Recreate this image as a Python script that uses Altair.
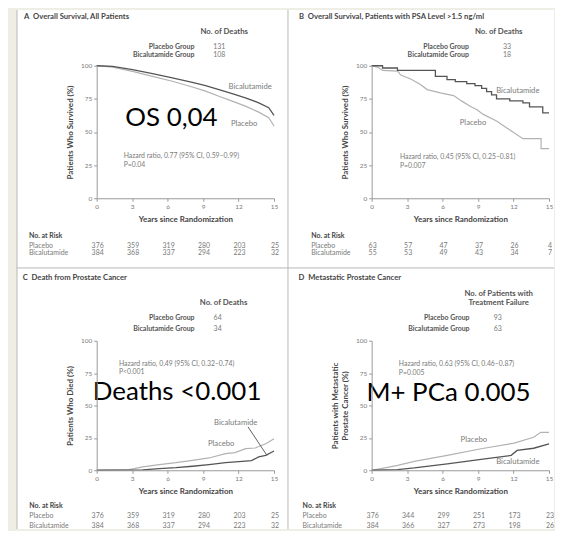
import altair as alt
import pandas as pd

# ---------------- data ----------------
YEAR_TICKS = [0, 3, 6, 9, 12, 15]
PCT_TICKS = [0, 25, 50, 75, 100]
GROUPS = ["Placebo", "Bicalutamide"]

# A  Overall survival, all patients (% surviving)
A_PLAC_YR = [0, 1.35, 3.03, 4.72, 6.40, 8.09, 9.21, 10.34, 11.46, 12.58, 13.71, 14.55, 15.0]
A_PLAC_PCT = [100, 99.0, 95.8, 92.0, 88.3, 84.0, 80.8, 77.0, 73.3, 69.5, 65.0, 60.8, 54.5]
A_BICA_YR = [0, 1.35, 3.03, 4.72, 6.40, 8.09, 9.21, 10.34, 11.46, 12.58, 13.71, 14.55, 15.0]
A_BICA_PCT = [100, 99.5, 97.0, 94.0, 90.8, 87.5, 85.0, 82.0, 79.0, 75.8, 72.0, 68.3, 62.5]
A_RISK_PLAC = [376, 359, 319, 280, 203, 25]
A_RISK_BICA = [384, 368, 337, 294, 223, 32]
A_EVENTS = [131, 108]

# B  Overall survival, PSA > 1.5 ng/ml
B_PLAC_YR = [0, 0.5, 0.92, 2.2, 2.46, 3.3, 4.13, 4.69, 5.81, 6.93, 7.63, 8.32, 8.88, 9.44,
             10.56, 11.4, 12.23, 12.79, 14.33, 14.33, 15.0]
B_PLAC_PCT = [100, 99.0, 96.5, 96.0, 93.0, 90.0, 85.8, 82.0, 79.5, 77.5, 73.3, 69.5, 67.0, 63.3,
              58.3, 53.3, 48.3, 45.0, 45.0, 37.5, 37.5]
B_BICA_YR = [0, 0.92, 2.18, 5.39, 6.37, 7.07, 8.04, 8.74, 9.30, 9.72, 10.14, 10.56, 11.68,
             12.79, 13.35, 14.47, 15.0]
B_BICA_PCT = [100, 98.3, 96.5, 92.0, 89.5, 88.0, 86.5, 85.0, 83.0, 80.5, 78.0, 75.0, 73.5,
              72.0, 69.0, 64.5, 64.5]
B_RISK_PLAC = [63, 57, 47, 37, 26, 4]
B_RISK_BICA = [55, 53, 49, 43, 34, 7]
B_EVENTS = [33, 18]

# C  Death from prostate cancer (% died)
C_PLAC_YR = [0, 2.75, 3.9, 5.3, 6.7, 8.1, 9.5, 10.9, 11.7, 12.6, 13.4, 14.3, 15.0]
C_PLAC_PCT = [0, 0.5, 2.6, 4.4, 5.9, 7.7, 9.5, 12.8, 13.6, 16.7, 17.2, 20.5, 24.4]
C_BICA_YR = [0, 3.9, 5.3, 6.7, 8.1, 9.5, 10.9, 12.3, 13.1, 13.7, 14.3, 15.0]
C_BICA_PCT = [0, 0.3, 1.3, 2.0, 3.1, 4.4, 5.9, 6.9, 7.4, 10.3, 11.5, 14.9]
C_RISK_PLAC = [376, 359, 319, 280, 203, 25]
C_RISK_BICA = [384, 368, 337, 294, 223, 32]
C_EVENTS = [64, 34]

# D  Metastatic prostate cancer (%)
D_PLAC_YR = [0, 0.8, 2.2, 3.6, 6.4, 9.25, 12.05, 13.7, 14.3, 15.0]
D_PLAC_PCT = [0, 1.3, 3.8, 6.9, 11.5, 16.6, 21.0, 25.5, 29.3, 29.3]
D_BICA_YR = [0, 2.2, 3.6, 6.4, 9.25, 11.8, 12.3, 13.7, 15.0]
D_BICA_PCT = [0, 0.5, 1.8, 5.0, 8.4, 11.5, 15.3, 17.0, 20.4]
D_RISK_PLAC = [376, 344, 299, 251, 173, 23]
D_RISK_BICA = [384, 366, 327, 273, 198, 26]
D_EVENTS = [93, 63]

# ---------------- styling ----------------
FONT = "Lato"
COL_PLAC = "#b2b2b2"
COL_BICA = "#555555"
GREY = "#7a7a7a"
DARK = "#454545"
W = 178


def panel(title, ytitle, head, hr, p, big, plac, bica, risk, events, lay, h, bica_interp="linear"):
    xs = alt.Scale(domain=[0, 15], nice=False, zero=False)
    ys = alt.Scale(domain=[0, 100], nice=False, zero=False)
    common = dict(labelFont=FONT, labelFontSize=6.5, labelColor=GREY, titleFont=FONT,
                  titleFontSize=8, titleFontWeight="bold", titleColor=DARK, domainColor="#9a9a9a",
                  tickColor="#9a9a9a", tickSize=3, labelPadding=2, grid=False, zindex=1,
                  labelFlush=False, labelOverlap=False)
    X = alt.X("x:Q", scale=xs, axis=alt.Axis(values=YEAR_TICKS, title="Years since Randomization",
                                             titlePadding=6, **common))
    Y = alt.Y("y:Q", scale=ys, axis=alt.Axis(values=PCT_TICKS, title=ytitle, titlePadding=6, **common))

    bx1, bx2, by1, by2 = lay["bg"]
    bg = alt.Chart(pd.DataFrame([{"x": bx1, "x2": bx2, "y": by1, "y2": by2}])).mark_rect(
        fill="white").encode(x=X, x2="x2:Q", y=Y, y2="y2:Q")
    rl = pd.DataFrame(lay["rules"], columns=["x", "x2", "y", "y2"])
    rules = alt.Chart(rl).mark_rule(color="#b8b8b8", strokeWidth=1).encode(
        x=X, x2="x2:Q", y=Y, y2="y2:Q")

    def line(xv, yv, color, sw, interp):
        df = pd.DataFrame({"x": xv, "y": yv, "i": range(len(xv))})
        return alt.Chart(df).mark_line(color=color, strokeWidth=sw, interpolate=interp).encode(
            x=X, y=Y, order="i:Q")

    lp = line(plac[0], plac[1], COL_PLAC, 1.2, "linear")
    lb = line(bica[0], bica[1], COL_BICA, 1.3, bica_interp)

    def txt(rows, **props):
        df = pd.DataFrame(rows, columns=["x", "y", "t"])
        base = dict(font=FONT, baseline="middle", fontSize=7)
        base.update(props)
        return alt.Chart(df).mark_text(**base).encode(x=X, y=Y, text="t:N")

    layers = [bg, rules, lp, lb]
    layers.append(txt([(lay["title"][0], lay["title"][1], title)], align="left",
                      fontWeight="bold", color=DARK, fontSize=7.7))
    layers.append(txt([(hx, hy, t) for t, (hx, hy) in zip(head, lay["head"])], align="center",
                      fontWeight="bold", color="#555555", fontSize=7.8))
    gy = lay["grp_y"]
    layers.append(txt([(lay["grp_x"], gy[0], "Placebo Group"),
                       (lay["grp_x"], gy[1], "Bicalutamide Group")], align="right",
                      fontWeight="bold", color="#555555"))
    layers.append(txt([(lay["cnt_x"], gy[0], str(events[0])),
                       (lay["cnt_x"], gy[1], str(events[1]))], align="left", color=GREY))
    layers.append(txt([(lay["lab_plac"][0], lay["lab_plac"][1], GROUPS[0]),
                       (lay["lab_bica"][0], lay["lab_bica"][1], GROUPS[1])], align="center",
                      color=GREY, fontSize=7.7))
    layers.append(txt([(lay["hr"][0], lay["hr"][1], hr), (lay["hr"][0], lay["hr"][1] - 6.8, p)],
                      align="left", color=GREY, fontSize=6.9))
    ry = lay["risk_y"]
    layers.append(txt([(lay["risk_x"], ry[0], "No. at Risk")], align="left", fontWeight="bold",
                      color=DARK))
    layers.append(txt([(lay["risk_x"], ry[1], GROUPS[0]), (lay["risk_x"], ry[2], GROUPS[1])],
                      align="left", color=GREY))
    rows = [(yr, ry[1], str(v)) for yr, v in zip(YEAR_TICKS, risk[0])] + \
           [(yr, ry[2], str(v)) for yr, v in zip(YEAR_TICKS, risk[1])]
    layers.append(txt(rows, align="center", color=GREY, dx=1))
    if lay.get("leader"):
        lx1, ly1, lx2, ly2 = lay["leader"]
        ld = pd.DataFrame([{"x": lx1, "x2": lx2, "y": ly1, "y2": ly2}])
        layers.append(alt.Chart(ld).mark_rule(color="#606060", strokeWidth=1).encode(
            x=X, x2="x2:Q", y=Y, y2="y2:Q"))
    if big:
        layers.append(txt([(lay["big"][0], lay["big"][1], big)], align="center",
                          baseline="alphabetic", fontSize=26, color="black"))
    return alt.layer(*layers).properties(width=W, height=h)


LAY_A = dict(bg=(-6.74, 16.18, -52.6, 142.1), rules=[(-6.74, -6.74, -52.6, 142.1)],
             title=(-6.15, 136.8), head=[(10.79, 125.6)], grp_x=8.26, grp_y=(114.3, 108.3),
             cnt_x=9.86, lab_bica=(12.98, 84.2), lab_plac=(12.47, 56.4), hr=(2.28, 31.6),
             big=(6.32, 54.4), risk_x=-5.73, risk_y=(-28.6, -36.1, -41.6))
LAY_B = dict(bg=(-7.08, 15.42, -52.6, 142.1), rules=[(-7.08, -7.08, -52.6, 142.1)],
             title=(-6.15, 136.8), head=[(10.74, 125.6)], grp_x=8.23, grp_y=(114.3, 108.3),
             cnt_x=11.1, lab_bica=(12.36, 81.0), lab_plac=(8.57, 57.1), hr=(2.39, 31.3),
             big=None, risk_x=-5.12, risk_y=(-28.6, -36.1, -41.6))
LAY_C = dict(bg=(-6.74, 16.18, -45.4, 156.2),
             rules=[(-6.74, -6.74, -45.4, 156.2), (-6.74, 16.18, 156.2, 156.2)],
             title=(-6.26, 148.2), head=[(10.73, 129.0)], grp_x=8.28, grp_y=(117.7, 109.2),
             cnt_x=9.89, lab_bica=(11.76, 36.2), lab_plac=(10.53, 20.0), hr=(1.88, 82.3),
             big=(6.8, 54.2), risk_x=-5.7, risk_y=(-27.8, -35.4, -42.8),
             leader=(12.8, 33.5, 14.4, 11.5))
LAY_D = dict(bg=(-7.08, 15.42, -45.4, 156.2),
             rules=[(-7.08, -7.08, -45.4, 156.2), (-7.08, 15.42, 156.2, 156.2)],
             title=(-6.18, 148.2), head=[(10.74, 136.2), (10.74, 129.0)], grp_x=8.28,
             grp_y=(117.7, 109.2), cnt_x=10.33, lab_bica=(12.36, 6.2), lab_plac=(8.64, 23.3),
             hr=(2.3, 81.8), big=(6.5, 53.6), risk_x=-5.84, risk_y=(-27.8, -35.4, -42.8))

pA = panel("A\u2002Overall Survival, All Patients", "Patients Who Survived (%)", ["No. of Deaths"],
           "Hazard ratio, 0.77 (95% CI, 0.59\u20130.99)", "P=0.04", "OS 0,04",
           (A_PLAC_YR, A_PLAC_PCT), (A_BICA_YR, A_BICA_PCT), (A_RISK_PLAC, A_RISK_BICA),
           A_EVENTS, LAY_A, 133)
pB = panel("B\u2002Overall Survival, Patients with PSA Level >1.5 ng/ml", "Patients Who Survived (%)",
           ["No. of Deaths"], "Hazard ratio, 0.45 (95% CI, 0.25\u20130.81)", "P=0.007", None,
           (B_PLAC_YR, B_PLAC_PCT), (B_BICA_YR, B_BICA_PCT), (B_RISK_PLAC, B_RISK_BICA),
           B_EVENTS, LAY_B, 133, bica_interp="step-after")
pC = panel("C\u2002Death from Prostate Cancer", "Patients Who Died (%)", ["No. of Deaths"],
           "Hazard ratio, 0.49 (95% CI, 0.32\u20130.74)", "P<0.001", "Deaths <0.001",
           (C_PLAC_YR, C_PLAC_PCT), (C_BICA_YR, C_BICA_PCT), (C_RISK_PLAC, C_RISK_BICA),
           C_EVENTS, LAY_C, 130)
pD = panel("D\u2002Metastatic Prostate Cancer", ["Patients with Metastatic", "Prostate Cancer (%)"],
           ["No. of Patients with", "Treatment Failure"],
           "Hazard ratio, 0.63 (95% CI, 0.46\u20130.87)", "P=0.005", "M+ PCa 0.005",
           (D_PLAC_YR, D_PLAC_PCT), (D_BICA_YR, D_BICA_PCT), (D_RISK_PLAC, D_RISK_BICA),
           D_EVENTS, LAY_D, 130)

chart = alt.concat(pA, pB, pC, pD, columns=2, spacing={"row": 143, "column": 98},
                   bounds="flush").properties(
    background="#eeeee4", padding={"left": 8, "top": 0, "right": 0, "bottom": 0}
).configure_view(strokeWidth=0)

chart.save("out.html", embed_options={"renderer": "svg", "actions": False})
